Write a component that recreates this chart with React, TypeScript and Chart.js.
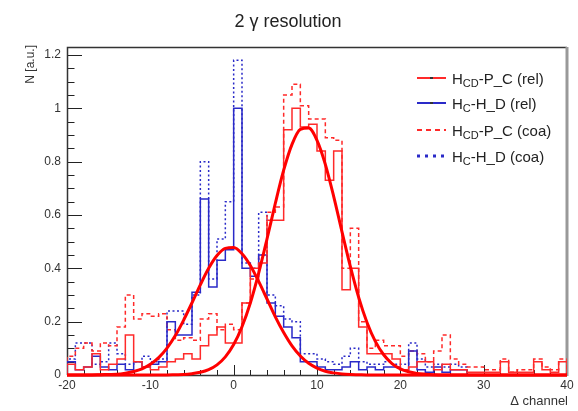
import React, { useEffect, useRef } from "react";
import { Chart, registerables } from "chart.js";

Chart.register(...registerables);

// ---------- data ----------
const binLowEdges = [
  -20, -19, -18, -17, -16, -15, -14, -13, -12, -11,
  -10, -9, -8, -7, -6, -5, -4, -3, -2, -1,
  0, 1, 2, 3, 4, 5, 6, 7, 8, 9,
  10, 11, 12, 13, 14, 15, 16, 17, 18, 19,
  20, 21, 22, 23, 24, 25, 26, 27, 28, 29,
  30, 31, 32, 33, 34, 35, 36, 37, 38, 39,
];
const histUpperEdge = 40;

const redRel = [
  0.04, 0.02, 0.03, 0.08, 0.02, 0.04, 0.06, 0.15, 0.05, 0.03,
  0.02, 0.03, 0.05, 0.06, 0.08, 0.06, 0.11, 0.15, 0.18, 0.12,
  0.12, 0.27, 0.40, 0.42, 0.58, 0.58, 0.92, 1.00, 0.93, 0.94,
  0.84, 0.73, 0.84, 0.32, 0.40, 0.18, 0.08, 0.08, 0.08, 0.06,
  0.02, 0.03, 0.05, 0.05, 0.02, 0.04, 0.02, 0.02, 0.01, 0.01,
  0.01, 0.01, 0.05, 0.01, 0.01, 0.01, 0.05, 0.02, 0.01, 0.05,
];
const redCoa = [
  0.07, 0.10, 0.12, 0.09, 0.12, 0.11, 0.18, 0.30, 0.21, 0.23,
  0.22, 0.23, 0.17, 0.13, 0.14, 0.13, 0.21, 0.23, 0.17, 0.19,
  0.17, 0.27, 0.36, 0.45, 0.61, 0.63, 1.05, 1.09, 1.01, 0.96,
  0.96, 0.89, 0.88, 0.40, 0.55, 0.20, 0.10, 0.13, 0.11, 0.11,
  0.07, 0.09, 0.08, 0.05, 0.09, 0.15, 0.06, 0.04, 0.03, 0.03,
  0.02, 0.02, 0.06, 0.01, 0.02, 0.02, 0.06, 0.03, 0.02, 0.06,
];
const blueRel = [
  0.05, 0.02, 0.03, 0.07, 0.03, 0.02, 0.04, 0.02, 0.05, 0.03,
  0.04, 0.05, 0.20, 0.15, 0.15, 0.31, 0.66, 0.33, 0.43, 0.47,
  1.00, 0.40, 0.37, 0.45, 0.27, 0.22, 0.18, 0.14, 0.05, 0.05,
  0.03, 0.02, 0.02, 0.03, 0.05, 0.02, 0.03, 0.02, 0.03, 0.03,
  0.02, 0.09, 0.02, 0.01, 0.03, 0.01, 0.02, 0.02, 0, 0,
  0, 0, 0, 0, 0, 0, 0, 0, 0, 0,
];
const blueCoa = [
  0.06, 0.12, 0.12, 0.04, 0.05, 0.12, 0.08, 0.04, 0.05, 0.07,
  0.05, 0.06, 0.24, 0.24, 0.19, 0.30, 0.80, 0.36, 0.51, 0.65,
  1.18, 0.42, 0.40, 0.61, 0.30, 0.26, 0.21, 0.20, 0.08, 0.08,
  0.06, 0.05, 0.04, 0.07, 0.10, 0.05, 0.04, 0.04, 0.05, 0.04,
  0.04, 0.12, 0.06, 0.03, 0.04, 0.03, 0.04, 0.03, 0, 0,
  0, 0, 0, 0, 0, 0, 0, 0, 0, 0,
];

// fit curves sampled at x = -20 .. 40
const fitX = [
  -20, -19, -18, -17, -16, -15, -14, -13, -12, -11,
  -10, -9, -8, -7, -6, -5, -4, -3, -2, -1,
  0, 1, 2, 3, 4, 5, 6, 7, 8, 9,
  10, 11, 12, 13, 14, 15, 16, 17, 18, 19,
  20, 21, 22, 23, 24, 25, 26, 27, 28, 29,
  30, 31, 32, 33, 34, 35, 36, 37, 38, 39, 40,
];
const fitRedValues = [
  0, 0, 0, 0, 0, 0, 0, 0, 0, 0,
  0, 0, 0, 0.001, 0.002, 0.005, 0.010, 0.020, 0.038, 0.068,
  0.114, 0.181, 0.270, 0.382, 0.510, 0.644, 0.768, 0.865, 0.921, 0.926,
  0.880, 0.790, 0.670, 0.537, 0.407, 0.291, 0.197, 0.126, 0.076, 0.043,
  0.023, 0.012, 0.006, 0.003, 0.001, 0, 0, 0, 0, 0,
  0, 0, 0, 0, 0, 0, 0, 0, 0, 0, 0,
];
const fitBlueValues = [
  0, 0, 0, 0, 0.001, 0.002, 0.003, 0.007, 0.013, 0.023,
  0.040, 0.065, 0.101, 0.148, 0.206, 0.271, 0.338, 0.400, 0.448, 0.475,
  0.478, 0.455, 0.411, 0.351, 0.285, 0.218, 0.159, 0.109, 0.071, 0.044,
  0.026, 0.014, 0.008, 0.004, 0.002, 0.001, 0, 0, 0, 0,
  0, 0, 0, 0, 0, 0, 0, 0, 0, 0,
  0, 0, 0, 0, 0, 0, 0, 0, 0, 0, 0,
];

const xTickLabels = [-20, -10, 0, 10, 20, 30, 40];
const yTickLabels = [0, 0.2, 0.4, 0.6, 0.8, 1, 1.2];
const xMinorStep = 2;
const yMinorStep = 0.05;
const xMin = -20;
const xMax = 40;
const yMin = 0;
const yMax = 1.23;

const titleText = "2 γ resolution";
const xTitle = "Δ channel";
const yTitle = "N [a.u.]";

const RED = "#ff2a2a";
const BLUE = "#2a2ac8";
const FIT = "#ff0000";
const FONT = '"Liberation Sans", Arial, Helvetica, sans-serif';

const legendEntries = [
  { main: "H", sub: "CD", rest: "-P_C (rel)", color: RED, dash: [] as number[], width: 2, marker: true },
  { main: "H", sub: "C", rest: "-H_D (rel)", color: BLUE, dash: [] as number[], width: 2, marker: true },
  { main: "H", sub: "CD", rest: "-P_C (coa)", color: RED, dash: [5, 4], width: 2, marker: false },
  { main: "H", sub: "C", rest: "-H_D (coa)", color: BLUE, dash: [3, 5], width: 3, marker: false },
];

function histPoints(values: number[]) {
  const pts: { x: number; y: number }[] = [{ x: binLowEdges[0], y: 0 }];
  values.forEach((v, i) => pts.push({ x: binLowEdges[i], y: v }));
  pts.push({ x: histUpperEdge, y: values[values.length - 1] });
  pts.push({ x: histUpperEdge, y: 0 });
  return pts;
}

function curvePoints(values: number[]) {
  return fitX.map((x, i) => ({ x, y: values[i] }));
}

const rootPlugin = {
  id: "rootStyle",
  beforeDatasetsDraw(chart: any) {
    const { ctx, chartArea: a } = chart;
    const xs = chart.scales.x;
    const ys = chart.scales.y;
    ctx.save();
    ctx.strokeStyle = "#222";
    ctx.lineWidth = 1;
    ctx.beginPath();
    for (let v = xMin; v <= xMax + 1e-9; v += xMinorStep) {
      const px = Math.round(xs.getPixelForValue(v)) + 0.5;
      const major = xTickLabels.some((t) => Math.abs(t - v) < 1e-6);
      const len = major ? 10 : 5;
      ctx.moveTo(px, a.bottom);
      ctx.lineTo(px, a.bottom - len);
    }
    for (let v = yMin; v <= yMax + 1e-9; v += yMinorStep) {
      const py = Math.round(ys.getPixelForValue(v)) + 0.5;
      const major = yTickLabels.some((t) => Math.abs(t - v) < 1e-6);
      const len = major ? 15 : 7.5;
      ctx.moveTo(a.left, py);
      ctx.lineTo(a.left + len, py);
    }
    ctx.stroke();
    // frame
    ctx.lineWidth = 1.5;
    ctx.strokeStyle = "#333";
    ctx.beginPath();
    ctx.moveTo(a.left + 0.5, a.bottom);
    ctx.lineTo(a.left + 0.5, a.top + 0.5);
    ctx.lineTo(a.right, a.top + 0.5);
    ctx.moveTo(a.left, a.bottom + 0.5);
    ctx.lineTo(a.right, a.bottom + 0.5);
    ctx.stroke();
    ctx.lineWidth = 3;
    ctx.strokeStyle = "#999";
    ctx.beginPath();
    ctx.moveTo(a.right, a.top);
    ctx.lineTo(a.right, a.bottom + 1);
    ctx.stroke();
    ctx.restore();
  },
  afterDraw(chart: any) {
    const { ctx, chartArea: a } = chart;
    const xs = chart.scales.x;
    const ys = chart.scales.y;
    ctx.save();
    // title
    ctx.fillStyle = "#222";
    ctx.font = `18px ${FONT}`;
    ctx.textAlign = "center";
    ctx.textBaseline = "alphabetic";
    ctx.fillText(titleText, 288, 27);
    // tick labels
    ctx.fillStyle = "#333";
    ctx.font = `12px ${FONT}`;
    ctx.textAlign = "center";
    ctx.textBaseline = "top";
    xTickLabels.forEach((t) => {
      ctx.fillText(String(t), xs.getPixelForValue(t), a.bottom + 5);
    });
    ctx.textAlign = "right";
    ctx.textBaseline = "middle";
    yTickLabels.forEach((t) => {
      ctx.fillText(String(t), a.left - 6, ys.getPixelForValue(t));
    });
    // axis titles
    ctx.font = `13px ${FONT}`;
    ctx.textAlign = "right";
    ctx.textBaseline = "alphabetic";
    ctx.fillText(xTitle, a.right + 1, 405);
    ctx.save();
    ctx.translate(34, a.top - 2);
    ctx.rotate(-Math.PI / 2);
    ctx.font = `12px ${FONT}`;
    ctx.textAlign = "right";
    ctx.fillText(yTitle, 0, 0);
    ctx.restore();
    // legend
    const rows = [78, 103, 130, 156];
    legendEntries.forEach((e, i) => {
      const y = rows[i];
      ctx.save();
      ctx.strokeStyle = e.color;
      ctx.lineWidth = e.width;
      ctx.setLineDash(e.dash);
      ctx.beginPath();
      ctx.moveTo(417, y);
      ctx.lineTo(446, y);
      ctx.stroke();
      ctx.restore();
      if (e.marker) {
        ctx.fillStyle = "#333";
        ctx.fillRect(430, y - 1, 3, 2);
      }
      let x = 452;
      ctx.fillStyle = "#222";
      ctx.textAlign = "left";
      ctx.textBaseline = "alphabetic";
      ctx.font = `15px ${FONT}`;
      ctx.fillText(e.main, x, y + 5.5);
      x += ctx.measureText(e.main).width;
      ctx.font = `11px ${FONT}`;
      ctx.fillText(e.sub, x, y + 9);
      x += ctx.measureText(e.sub).width;
      ctx.font = `15px ${FONT}`;
      ctx.fillText(e.rest, x, y + 5.5);
    });
    ctx.restore();
  },
};

export default function App() {
  const canvasRef = useRef<HTMLCanvasElement | null>(null);

  useEffect(() => {
    document.body.style.margin = "0";
    const canvas = canvasRef.current;
    if (!canvas) return;
    const hist = (values: number[], color: string, dash: number[], order: number) => ({
      type: "line" as const,
      data: histPoints(values),
      borderColor: color,
      borderWidth: 1.5,
      borderDash: dash,
      stepped: "before" as const,
      pointRadius: 0,
      fill: false,
      order,
    });
    const fit = (values: number[]) => ({
      type: "line" as const,
      data: curvePoints(values),
      borderColor: FIT,
      borderWidth: 3,
      cubicInterpolationMode: "monotone" as const,
      pointRadius: 0,
      fill: false,
      clip: false as any,
      order: 0,
    });
    const chart = new Chart(canvas, {
      type: "line",
      data: {
        datasets: [
          fit(fitRedValues),
          fit(fitBlueValues),
          hist(redRel, RED, [], 2),
          hist(blueRel, BLUE, [], 3),
          hist(redCoa, RED, [4, 3], 4),
          hist(blueCoa, BLUE, [2, 2.5], 5),
        ] as any,
      },
      options: {
        responsive: false,
        maintainAspectRatio: false,
        animation: false,
        layout: { padding: { left: 67, right: 11, top: 47, bottom: 36 } },
        scales: {
          x: { type: "linear", min: xMin, max: xMax, display: false },
          y: { type: "linear", min: yMin, max: yMax, display: false },
        },
        plugins: {
          legend: { display: false },
          tooltip: { enabled: false },
          title: { display: false },
        },
        events: [],
      },
      plugins: [rootPlugin],
    });
    return () => chart.destroy();
  }, []);

  return (
    <canvas
      ref={canvasRef}
      width={578}
      height={411}
      style={{ display: "block", width: 578, height: 411, background: "#fff" }}
    />
  );
}
